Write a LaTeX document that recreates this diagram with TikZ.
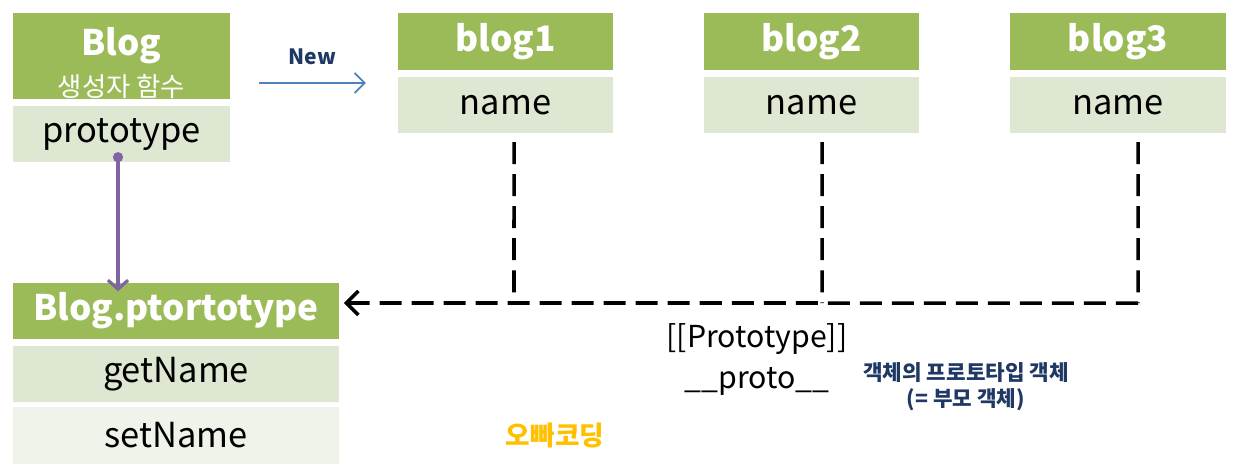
\documentclass[tikz,border=0pt]{standalone}
\usepackage{fontspec}
\setmainfont{Noto Sans CJK KR}
\usepackage{xcolor}
\usepackage{tikz}
\usetikzlibrary{arrows.meta, positioning, calc}
\definecolor{hdrgreen}{HTML}{9BBB59}
\definecolor{rowgreen}{HTML}{DEE7D1}
\definecolor{rowpale}{HTML}{EFF3EA}
\definecolor{newblue}{HTML}{4F81BD}
\definecolor{navy}{HTML}{1F3864}
\definecolor{linkpurple}{HTML}{8064A2}
\definecolor{brandgold}{HTML}{FFC000}
\tikzset{
  hdr/.style={rectangle, fill=hdrgreen, text=white, inner sep=0pt,
    minimum height=0.57cm, font=\bfseries\fontsize{10}{12}\selectfont},
  rowbox/.style={rectangle, fill=rowgreen, text=black, inner sep=0pt,
    minimum height=0.56cm, font=\fontsize{9.8}{11}\selectfont},
  caption/.style={inner sep=0pt, font=\fontsize{8.6}{10}\selectfont},
  note/.style={inner sep=0pt, text=navy, align=center,
    font=\bfseries\fontsize{6.05}{7.4}\selectfont},
  dashline/.style={line width=1pt, dash pattern=on 0.22cm off 0.1cm},
  newarrow/.style={-{Straight Barb[length=0.1cm, width=0.2cm]}, newblue, line width=0.5pt},
  protoarrow/.style={{Circle[length=0.1cm]}-{Straight Barb[length=0.09cm, width=0.2cm]},
    linkpurple, line width=0.9pt}
}
\begin{document}
\begin{tikzpicture}[x=0.01cm, y=-0.01cm, node distance=0.06cm]
\useasboundingbox (0,0) rectangle (1239,475);

% constructor function
\node (blog)  [hdr, minimum width=2.17cm, minimum height=0.86cm, align=center] at (121.5,56)
  {\rule{0pt}{12pt}Blog\\[-0.5pt]{\mdseries\fontsize{7.5}{8}\selectfont 생성자 함수}};
\node (proto) [rowbox, minimum width=2.17cm, below=of blog] {prototype};

% instances
\node (b1) [hdr, minimum width=2.15cm] at (505.5,41.5) {blog1};
\node (n1) [rowbox, minimum width=2.15cm, below=of b1] {name};
\node (b2) [hdr, minimum width=2.15cm] at (811.5,41.5) {blog2};
\node (n2) [rowbox, minimum width=2.15cm, below=of b2] {name};
\node (b3) [hdr, minimum width=2.16cm] at (1118,41.5) {blog3};
\node (n3) [rowbox, minimum width=2.16cm, below=of b3] {name};

% prototype object
\node (bp)  [hdr, minimum width=3.26cm, minimum height=0.56cm] at (176,311) {Blog.ptortotype};
\node (get) [rowbox, minimum width=3.26cm, below=of bp] {getName};
\node (set) [rowbox, fill=rowpale, minimum width=3.26cm, minimum height=0.57cm,
  below=0.03cm of get] {setName};

% labels
\node (pp)    [caption] at (757,339) {[[Prototype]]};
\node (pu)    [caption] at (757,381) {\_\_proto\_\_};
\node (pnote) [note] at (966,387) {객체의 프로토타입 객체\\(= 부모 객체)};
\node (brand) [inner sep=0pt, text=brandgold, font=\bfseries\fontsize{7.6}{8}\selectfont]
  at (555,436) {오빠코딩};

\coordinate (j1) at (514,303);
\coordinate (j2) at (822,303);
\coordinate (j3) at (1138,303);

\draw [newarrow] ([xshift=0.28cm,yshift=-0.27cm]blog.east) --
  node[above=0.17cm, inner sep=0pt, text=navy, font=\bfseries\fontsize{6}{7}\selectfont] {New}
  ([xshift=1.35cm,yshift=-0.27cm]blog.east);
\draw [protoarrow] ($(proto.south)+(-3.5,-11)$) -- ($(proto.south |- bp.north)+(-3.5,9)$);
\draw [dashline] ([xshift=0.085cm,yshift=-0.08cm]n1.south) -- (j1);
\draw [dashline] ([xshift=0.105cm,yshift=-0.08cm]n2.south) -- (j2);
\draw [dashline] ([xshift=0.2cm,yshift=-0.08cm]n3.south) -- (j3);
\draw [dashline, -{Straight Barb[length=0.12cm, width=0.24cm]}] (j3) -- ([xshift=0.04cm,yshift=0.08cm]bp.east);
\end{tikzpicture}
\end{document}
